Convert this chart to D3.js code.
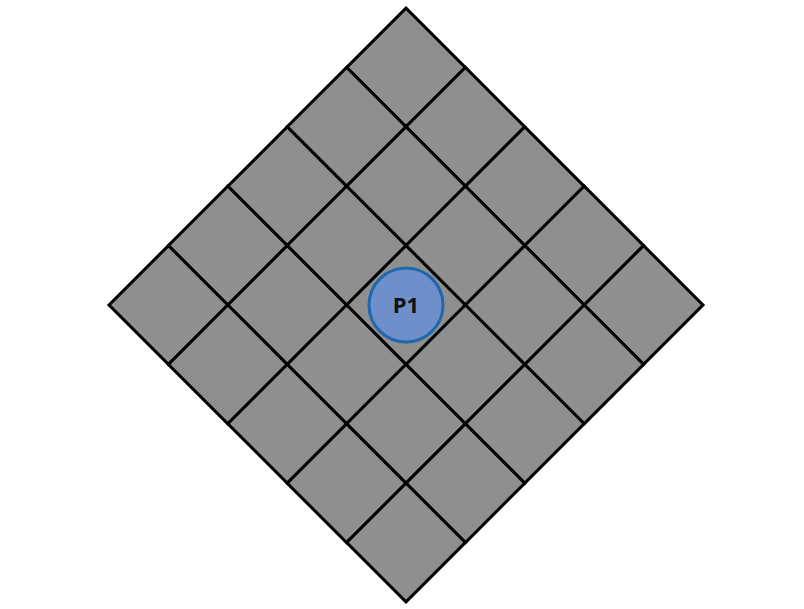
<!DOCTYPE html>
<html>
<head>
<meta charset="utf-8">
<script src="https://cdn.jsdelivr.net/npm/d3@7"></script>
<style>body{margin:0;background:#fff;}</style>
</head>
<body>
<div id="chart"></div>
<script>
// Grid rows / columns
let rows = [0, 1, 2, 3, 4];
let cols = [0, 1, 2, 3, 4];
// Markers placed on the grid (in cell units, centre = 2.5)
let markers = [{label: "P1", row: 2.5, col: 2.5}];

let svgWidth = 804, svgHeight = 609;
let cx = 406, cy = 305;
let side = 420;

let svg = d3.select("#chart").append("svg")
    .attr("width", svgWidth)
    .attr("height", svgHeight);

let x = d3.scaleBand().domain(cols).range([-side / 2, side / 2]);
let y = d3.scaleBand().domain(rows).range([-side / 2, side / 2]);
let pos = d3.scaleLinear().domain([0, 5]).range([-side / 2, side / 2]);

let g = svg.append("g")
    .attr("transform", `translate(${cx},${cy}) rotate(45)`);

let cells = [];
rows.forEach(r => cols.forEach(c => cells.push({r, c})));

g.selectAll("rect")
    .data(cells)
    .enter()
    .append("rect")
    .attr("x", d => x(d.c))
    .attr("y", d => y(d.r))
    .attr("width", x.bandwidth())
    .attr("height", y.bandwidth())
    .attr("fill", "#8f8f8f")
    .attr("stroke", "#000")
    .attr("stroke-width", 3);

let mg = svg.append("g").attr("transform", `translate(${cx},${cy})`);
markers.forEach(m => {
    let a = Math.PI / 4;
    let px = pos(m.col), py = pos(m.row);
    let rx = px * Math.cos(a) - py * Math.sin(a);
    let ry = px * Math.sin(a) + py * Math.cos(a);
    mg.append("circle")
        .attr("cx", rx).attr("cy", ry).attr("r", 37)
        .attr("fill", "#6f8fca")
        .attr("stroke", "#1f68ad")
        .attr("stroke-width", 3);
    mg.append("text")
        .attr("x", rx).attr("y", ry)
        .attr("dy", "0.36em")
        .attr("text-anchor", "middle")
        .attr("font-family", "Open Sans, sans-serif")
        .attr("font-weight", "bold")
        .attr("font-size", "22px")
        .attr("fill", "#111")
        .text(m.label);
});
</script>
</body>
</html>
